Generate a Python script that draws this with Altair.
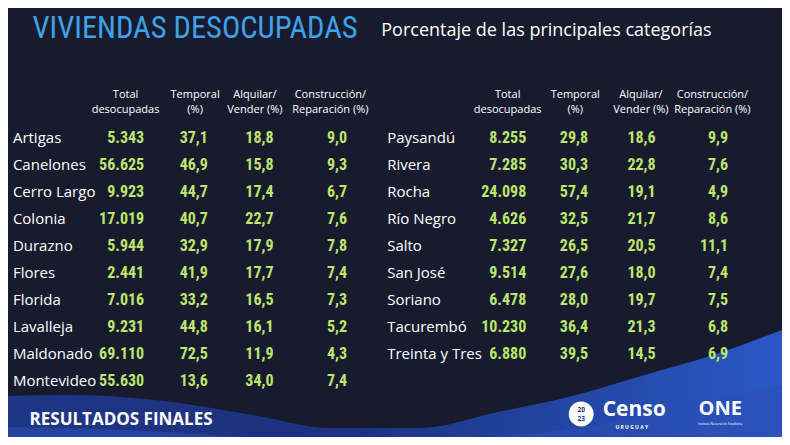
import altair as alt
import pandas as pd

# ---------------- data ----------------
left_names = ["Artigas", "Canelones", "Cerro Largo", "Colonia", "Durazno",
              "Flores", "Florida", "Lavalleja", "Maldonado", "Montevideo"]
left_total = [5343, 56625, 9923, 17019, 5944, 2441, 7016, 9231, 69110, 55630]
left_temporal = [37.1, 46.9, 44.7, 40.7, 32.9, 41.9, 33.2, 44.8, 72.5, 13.6]
left_alquilar = [18.8, 15.8, 17.4, 22.7, 17.9, 17.7, 16.5, 16.1, 11.9, 34.0]
left_constr = [9.0, 9.3, 6.7, 7.6, 7.8, 7.4, 7.3, 5.2, 4.3, 7.4]

right_names = ["Paysandú", "Rivera", "Rocha", "Río Negro", "Salto",
               "San José", "Soriano", "Tacurembó", "Treinta y Tres"]
right_total = [8255, 7285, 24098, 4626, 7327, 9514, 6478, 10230, 6880]
right_temporal = [29.8, 30.3, 57.4, 32.5, 26.5, 27.6, 28.0, 36.4, 39.5]
right_alquilar = [18.6, 22.8, 19.1, 21.7, 20.5, 18.0, 19.7, 21.3, 14.5]
right_constr = [9.9, 7.6, 4.9, 8.6, 11.1, 7.4, 7.5, 6.8, 6.9]

header_line1 = ["Total", "Temporal", "Alquilar/", "Construcción/"]
header_line2 = ["desocupadas", "(%)", "Vender (%)", "Reparación (%)"]

title = "VIVIENDAS DESOCUPADAS"
subtitle = "Porcentaje de las principales categorías"
footer = "RESULTADOS FINALES"

# decorative wave outlines
wave_x = [0, 60, 150, 250, 330, 420, 500, 580, 650, 720, 790]
wave_y = [396, 395, 400, 415, 428, 428, 412, 395, 375, 355, 330]
band_x = [0, 120, 240, 360, 480, 600, 700, 790]
band_y = [427, 430, 437, 442, 438, 425, 405, 385]

# ---------------- layout (reference pixel frame 790x445) ----------------
REF_W = 790
W, H = 774, 429
Y_TOP = 8            # reference y that sits at the top of the plot area
ROW0, ROW_STEP = 138, 27
left_cols = {"name": 5, "total": 139, "temporal": 204, "alquilar": 271, "constr": 346}
right_cols = {"name": 387, "total": 529, "temporal": 592, "alquilar": 661, "constr": 735}
left_head_x = [120, 191, 252, 329]
right_head_x = [510, 579, 646, 719]
HEAD_Y1, HEAD_Y2 = 95, 110


def fmt_int(v):
    return f"{v:,}".replace(",", ".")


def fmt_pct(v):
    return f"{v:.1f}".replace(".", ",")


def table_rows(names, total, temporal, alquilar, constr, cols):
    name_rows, num_rows = [], []
    for i, n in enumerate(names):
        y = ROW0 + ROW_STEP * i
        name_rows.append({"text": n, "x": cols["name"], "y": y})
        num_rows.append({"text": fmt_int(total[i]), "x": cols["total"], "y": y})
        num_rows.append({"text": fmt_pct(temporal[i]), "x": cols["temporal"], "y": y})
        num_rows.append({"text": fmt_pct(alquilar[i]), "x": cols["alquilar"], "y": y})
        num_rows.append({"text": fmt_pct(constr[i]), "x": cols["constr"], "y": y})
    return name_rows, num_rows


ln, lv = table_rows(left_names, left_total, left_temporal, left_alquilar, left_constr, left_cols)
rn, rv = table_rows(right_names, right_total, right_temporal, right_alquilar, right_constr, right_cols)
names_df = pd.DataFrame(ln + rn)
nums_df = pd.DataFrame(lv + rv)

head_rows = []
for hx_list in (left_head_x, right_head_x):
    for j, hx in enumerate(hx_list):
        head_rows.append({"text": header_line1[j], "x": hx, "y": HEAD_Y1})
        head_rows.append({"text": header_line2[j], "x": hx, "y": HEAD_Y2})
head_df = pd.DataFrame(head_rows)

wave_df = pd.DataFrame({"x": wave_x, "y": wave_y})
band_df = pd.DataFrame({"x": band_x, "y": band_y})

xs = alt.Scale(domain=[0, REF_W], nice=False, zero=False)
ys = alt.Scale(domain=[Y_TOP, Y_TOP + H], nice=False, zero=False, reverse=True)
X = lambda: alt.X("x:Q", scale=xs, axis=None)
Y = lambda: alt.Y("y:Q", scale=ys, axis=None)

wave = alt.Chart(wave_df).mark_area(
    interpolate="monotone", clip=True,
    color=alt.Gradient(
        gradient="linear",
        stops=[alt.GradientStop(color="#1f3585", offset=0),
               alt.GradientStop(color="#1c3280", offset=0.45),
               alt.GradientStop(color="#2a58c6", offset=1)],
        x1=0, x2=1, y1=0, y2=0),
).encode(x=X(), y=Y(), y2=alt.datum(460))

band = alt.Chart(band_df).mark_area(
    interpolate="monotone", clip=True, color="#2b4fb4", opacity=0.55
).encode(x=X(), y=Y(), y2=alt.datum(460))

SANS = "Open Sans"
COND = "Roboto Condensed"

names_layer = alt.Chart(names_df).mark_text(
    align="left", baseline="middle", font=SANS, fontSize=15, fontWeight=500, color="#ffffff"
).encode(x=X(), y=Y(), text="text:N")

nums_layer = alt.Chart(nums_df).mark_text(
    align="right", baseline="middle", font=COND, fontSize=16, fontWeight="bold", color="#bce66c"
).encode(x=X(), y=Y(), text="text:N")

head_layer = alt.Chart(head_df).mark_text(
    align="center", baseline="middle", font=SANS, fontSize=11, color="#ffffff"
).encode(x=X(), y=Y(), text="text:N")

single_df = pd.DataFrame({"k": [0]})


def px(x):
    return x * W / REF_W


def py(y):
    return y - Y_TOP


def label(text, x, y, **kw):
    return alt.Chart(single_df).mark_text(text=text, **kw).encode(
        x=alt.value(px(x)), y=alt.value(py(y)))


title_layer = label(title, 25, 29, align="left", baseline="middle", font=COND,
                    fontSize=30.5, color="#3fa2e6")
sub_layer = label(subtitle, 381, 31, align="left", baseline="middle", font=SANS,
                  fontSize=18, color="#ffffff")
footer_layer = label(footer, 22, 420, align="left", baseline="middle", font=SANS,
                     fontSize=17, fontWeight="bold", color="#ffffff")

# logos drawn as simple text/marks
gear = alt.Chart(single_df).mark_point(filled=True, shape="circle", size=620, color="#ffffff", opacity=1).encode(
    x=alt.value(px(585)), y=alt.value(py(414)))
gear_txt1 = label("20", 585, 410, align="center", baseline="middle", font=SANS, fontSize=6.5,
                  fontWeight="bold", color="#1d3580")
gear_txt2 = label("23", 585, 419, align="center", baseline="middle", font=SANS, fontSize=6.5,
                  fontWeight="bold", color="#1d3580")
censo = label("Censo", 607, 410, align="left", baseline="middle", font=SANS, fontSize=21,
              fontWeight="bold", color="#ffffff")
uruguay = label("U R U G U A Y", 620, 427, align="left", baseline="middle", font=SANS, fontSize=5,
                fontWeight="bold", color="#ffffff")
one = label("ONE", 727, 409, align="center", baseline="middle", font=SANS, fontSize=20,
            fontWeight="bold", color="#ffffff")
one_sub = label("Instituto Nacional de Estadística", 727, 424, align="center", baseline="middle",
                font=SANS, fontSize=3, color="#ffffff")

chart = alt.layer(
    wave, band, names_layer, nums_layer, head_layer, title_layer, sub_layer, footer_layer,
    gear, gear_txt1, gear_txt2, censo, uruguay, one, one_sub
).properties(
    width=W, height=H, padding=0, autosize=alt.AutoSizeParams(type="none")
).configure(background="#181b2e").configure_view(stroke=None)

chart.save("out.html", embed_options={"renderer": "svg", "actions": False})
